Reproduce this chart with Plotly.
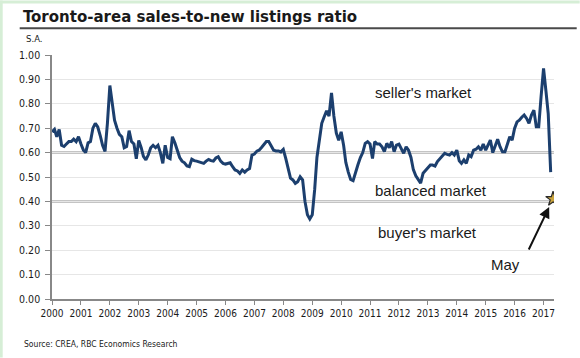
import pandas as pd
import plotly.graph_objects as go

# ---- data (monthly, seasonally adjusted) ----
start_month = "2000-01-01"
ratio_values = [
    # 2000
    0.685, 0.695, 0.665, 0.695, 0.630, 0.625, 0.635, 0.645, 0.645, 0.655, 0.645, 0.665,
    # 2001
    0.635, 0.610, 0.600, 0.640, 0.645, 0.700, 0.720, 0.705, 0.670, 0.630, 0.605, 0.720,
    # 2002
    0.875, 0.787, 0.733, 0.700, 0.675, 0.665, 0.620, 0.625, 0.690, 0.645, 0.635, 0.575,
    # 2003
    0.650, 0.620, 0.585, 0.570, 0.590, 0.620, 0.630, 0.620, 0.630, 0.600, 0.556, 0.630,
    # 2004
    0.580, 0.575, 0.665, 0.640, 0.610, 0.580, 0.565, 0.558, 0.545, 0.542, 0.573, 0.567,
    # 2005
    0.565, 0.562, 0.560, 0.556, 0.565, 0.572, 0.567, 0.565, 0.578, 0.583, 0.565, 0.556,
    # 2006
    0.553, 0.555, 0.558, 0.542, 0.529, 0.525, 0.515, 0.529, 0.520, 0.529, 0.535, 0.590,
    # 2007
    0.594, 0.606, 0.610, 0.621, 0.635, 0.645, 0.645, 0.627, 0.610, 0.607, 0.607, 0.603,
    # 2008
    0.613, 0.576, 0.535, 0.495, 0.488, 0.474, 0.481, 0.501, 0.488, 0.400, 0.345, 0.328,
    # 2009
    0.345, 0.450, 0.580, 0.660, 0.720, 0.747, 0.771, 0.750, 0.845, 0.750, 0.680, 0.650,
    # 2010
    0.685, 0.630, 0.560, 0.520, 0.490, 0.485, 0.520, 0.550, 0.580, 0.600, 0.638, 0.645,
    # 2011
    0.635, 0.576, 0.645, 0.635, 0.635, 0.624, 0.604, 0.638, 0.620, 0.645, 0.604, 0.631,
    # 2012
    0.635, 0.612, 0.597, 0.624, 0.610, 0.580, 0.530, 0.505, 0.490, 0.475, 0.515, 0.525,
    # 2013
    0.536, 0.549, 0.549, 0.545, 0.563, 0.576, 0.585, 0.597, 0.593, 0.590, 0.600, 0.590,
    # 2014
    0.610, 0.566, 0.556, 0.570, 0.556, 0.590, 0.583, 0.610, 0.614, 0.624, 0.610, 0.635,
    # 2015
    0.610, 0.630, 0.651, 0.600, 0.630, 0.655, 0.624, 0.603, 0.603, 0.630, 0.665, 0.651,
    # 2016
    0.699, 0.726, 0.733, 0.745, 0.754, 0.740, 0.720, 0.754, 0.774, 0.706, 0.706, 0.830,
    # 2017
    0.945, 0.850, 0.760, 0.520,
]
may_date = ["2017-05-01"]
may_value = [0.41]
year_labels = [str(y) for y in range(2000, 2018)]
y_ticks = [0.0, 0.1, 0.2, 0.3, 0.4, 0.5, 0.6, 0.7, 0.8, 0.9, 1.0]
threshold_values = [0.60, 0.40]

dates = pd.date_range(start_month, periods=len(ratio_values), freq="MS")
tick_dates = [f"{y}-01-01" for y in year_labels]

LINE = "#1c3f6e"
TXT = "#1a1a1a"
FONT = "DejaVu Sans Condensed"

fig = go.Figure()
fig.add_trace(go.Scatter(
    x=dates, y=ratio_values, mode="lines",
    line=dict(color=LINE, width=3), hoverinfo="skip", showlegend=False,
))
fig.add_trace(go.Scatter(
    x=may_date, y=may_value, mode="markers",
    marker=dict(symbol="star", size=11, color="#c9a33c",
                line=dict(color="#2b2b2b", width=1.2)),
    hoverinfo="skip", showlegend=False,
))

for v in threshold_values:
    fig.add_hline(y=v, line=dict(color="#8a8a8a", width=2), layer="below")

x_end = "2017-05-13"

fig.update_layout(
    width=580, height=358,
    margin=dict(l=52, r=26, t=55, b=59),
    paper_bgcolor="white", plot_bgcolor="white",
    title=dict(
        text="Toronto-area sales-to-new listings ratio",
        x=23 / 580, xanchor="left", y=1 - 16 / 358, yanchor="middle",
        font=dict(family=FONT, size=16.7, color=TXT, weight="bold"),
    ),
    xaxis=dict(
        type="date", range=[start_month, x_end],
        tickvals=tick_dates, ticktext=year_labels,
        ticks="outside", ticklen=4, tickwidth=1, tickcolor="#888888",
        showline=True, linecolor="#888888", linewidth=1.5,
        showgrid=False, zeroline=False,
        tickfont=dict(family=FONT, size=10, color=TXT),
    ),
    yaxis=dict(
        range=[0, 1.0], tickvals=y_ticks, tickformat=".2f",
        ticks="outside", ticklen=5, tickwidth=1, tickcolor="#888888",
        showline=True, linecolor="#888888", linewidth=1.5,
        showgrid=True, gridcolor="#e6e6e6", gridwidth=1,
        zeroline=False,
        tickfont=dict(family=FONT, size=10.5, color=TXT),
        ticklabelstandoff=3,
    ),
)

def px_x(px):
    return (px - 52.3) / 502.0

def px_y(py):
    return (299.3 - py) / 244.6

annos = [
    dict(text="seller's market", x=px_x(373), y=px_y(92), xanchor="left"),
    dict(text="balanced market", x=px_x(373), y=px_y(190.5), xanchor="left"),
    dict(text="buyer's market", x=px_x(376), y=px_y(233), xanchor="left"),
    dict(text="May", x=px_x(506), y=px_y(265), xanchor="center"),
]
for a in annos:
    fig.add_annotation(
        text=a["text"], x=a["x"], y=a["y"], xref="paper", yref="paper",
        xanchor=a["xanchor"], yanchor="middle", showarrow=False,
        font=dict(family="Liberation Sans", size=15, color=TXT),
    )

# arrow pointing to the May star
fig.add_annotation(
    x=may_date[0], y=may_value[0], xref="x", yref="y",
    ax=-25, ay=52, text="", showarrow=True,
    arrowhead=2, arrowsize=1.1, arrowwidth=2, arrowcolor="#111111",
    standoff=9,
)

fig.add_annotation(
    text="S.A.", x=px_x(24), y=px_y(38), xref="paper", yref="paper",
    xanchor="left", yanchor="middle", showarrow=False,
    font=dict(family=FONT, size=9.5, color=TXT),
)
fig.add_annotation(
    text="Source: CREA, RBC Economics Research", x=px_x(22), y=px_y(344),
    xref="paper", yref="paper", xanchor="left", yanchor="middle",
    showarrow=False, font=dict(family=FONT, size=8.5, color=TXT),
)

# rule under the title
fig.add_shape(type="line", xref="paper", yref="paper",
              x0=px_x(20), x1=px_x(577), y0=px_y(28), y1=px_y(28),
              line=dict(color="#4a4a4a", width=2))
# light green frame strips (left and top)
fig.add_shape(type="rect", xref="paper", yref="paper",
              x0=px_x(0), x1=px_x(3), y0=px_y(358), y1=px_y(0),
              line=dict(width=0), fillcolor="#d6eed6")
fig.add_shape(type="rect", xref="paper", yref="paper",
              x0=px_x(0), x1=px_x(580), y0=px_y(3), y1=px_y(0),
              line=dict(width=0), fillcolor="#d6eed6")

fig.write_html("out.html", config={"displayModeBar": False},
               post_script="document.body.style.margin='0';")
